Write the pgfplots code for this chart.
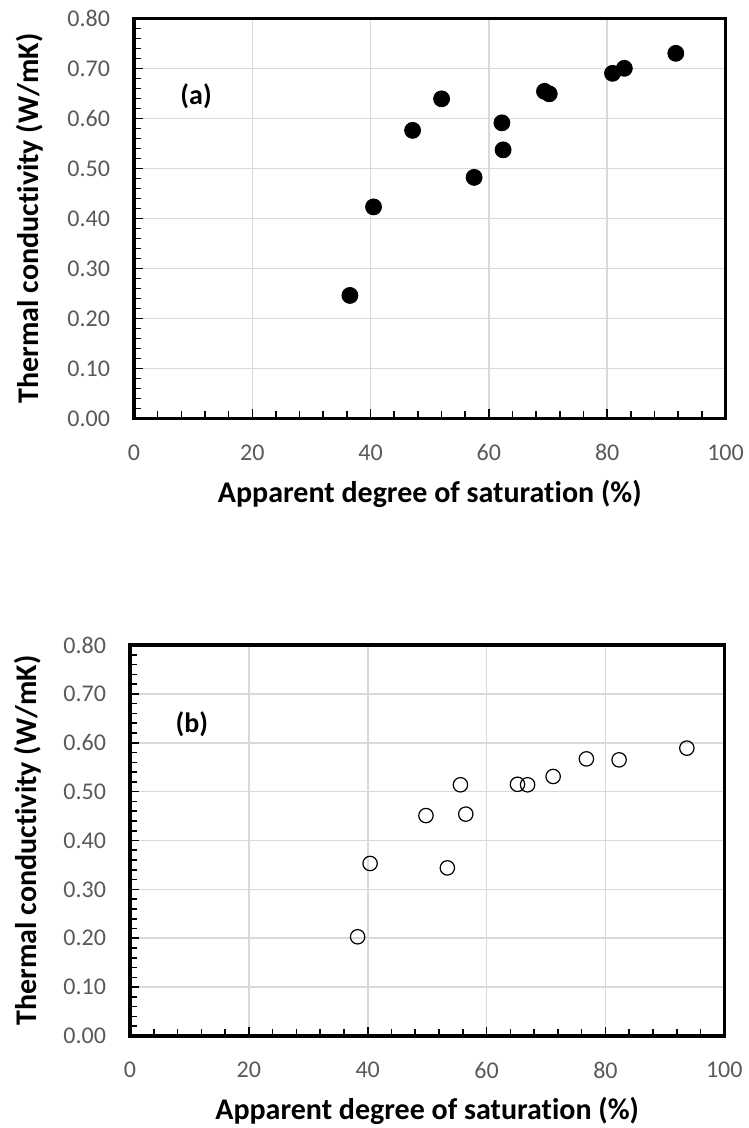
\documentclass[border=0pt]{standalone}
\usepackage{fontspec}
\setmainfont{Carlito}[Ligatures=NoCommon]
\usepackage{pgfplots}
\pgfplotsset{compat=1.18}
\definecolor{tickgray}{HTML}{595959}
\definecolor{gridgray}{HTML}{D9D9D9}
\pgfplotsset{
  myaxis/.style={
    scale only axis,
    anchor=south west,
    xmin=0, xmax=100, ymin=0, ymax=0.8,
    xtick={0,20,40,60,80,100},
    ytick={0,0.1,0.2,0.3,0.4,0.5,0.6,0.7,0.8},
    minor x tick num=4, minor y tick num=4,
    tick align=inside, tick pos=left,
    major tick length=4.5bp, minor tick length=3.5bp,
    grid=major,
    major grid style={gridgray, line width=0.8bp},
    axis line style={line width=1.6bp, black},
    every tick/.style={black, line width=0.8bp},
    tick label style={font=\fontsize{12bp}{14bp}\selectfont, text=tickgray},
    /pgf/number format/assume math mode=true,
    yticklabel style={/pgf/number format/fixed, /pgf/number format/fixed zerofill, /pgf/number format/precision=2, xshift=-8.5bp},
    xticklabel style={yshift=-9.5bp},
    label style={font=\bfseries\fontsize{15bp}{18bp}\selectfont, text=black},
    xlabel={Apparent degree of saturation (\%)},
    ylabel={Thermal conductivity (W/mK)},
  }
}
\begin{document}
\begin{tikzpicture}
\useasboundingbox (0,0) rectangle (374.5bp,564bp);
% (a)
\begin{axis}[myaxis,
  at={(67bp,354.75bp)},
  width=295.75bp, height=200.1bp,
  xlabel style={at={(axis description cs:0.5,-0.2111)}, anchor=base},
  ylabel style={at={(axis description cs:-0.1623,0.5)}, anchor=base, rotate=0},
]
\addplot[only marks, mark=*, mark size=4bp, mark options={fill=black, draw=black}] coordinates {
(36.5,0.246) (40.5,0.423) (47.1,0.576) (52.0,0.639) (57.5,0.482)
(62.2,0.591) (62.4,0.537) (69.4,0.654) (70.2,0.649) (80.9,0.690)
(82.9,0.700) (91.6,0.730)
};
\node[font=\bfseries\fontsize{14bp}{16bp}\selectfont] at (axis cs:10.5,0.645) {(a)};
\end{axis}
% (b)
\begin{axis}[myaxis,
  at={(65bp,46bp)},
  width=297.15bp, height=195.5bp,
  xlabel style={at={(axis description cs:0.5,-0.2148)}, anchor=base},
  ylabel style={at={(axis description cs:-0.1565,0.5)}, anchor=base, rotate=0},
]
\addplot[only marks, mark=o, mark size=3.6bp, mark options={draw=black, line width=0.6bp}] coordinates {
(38.3,0.203) (40.4,0.353) (49.8,0.451) (55.6,0.514) (56.5,0.454)
(53.4,0.344) (65.2,0.515) (66.9,0.514) (71.2,0.531) (76.8,0.567)
(82.3,0.565) (93.7,0.589)
};
\node[font=\bfseries\fontsize{14bp}{16bp}\selectfont] at (axis cs:10.4,0.638) {(b)};
\end{axis}
\end{tikzpicture}
\end{document}
